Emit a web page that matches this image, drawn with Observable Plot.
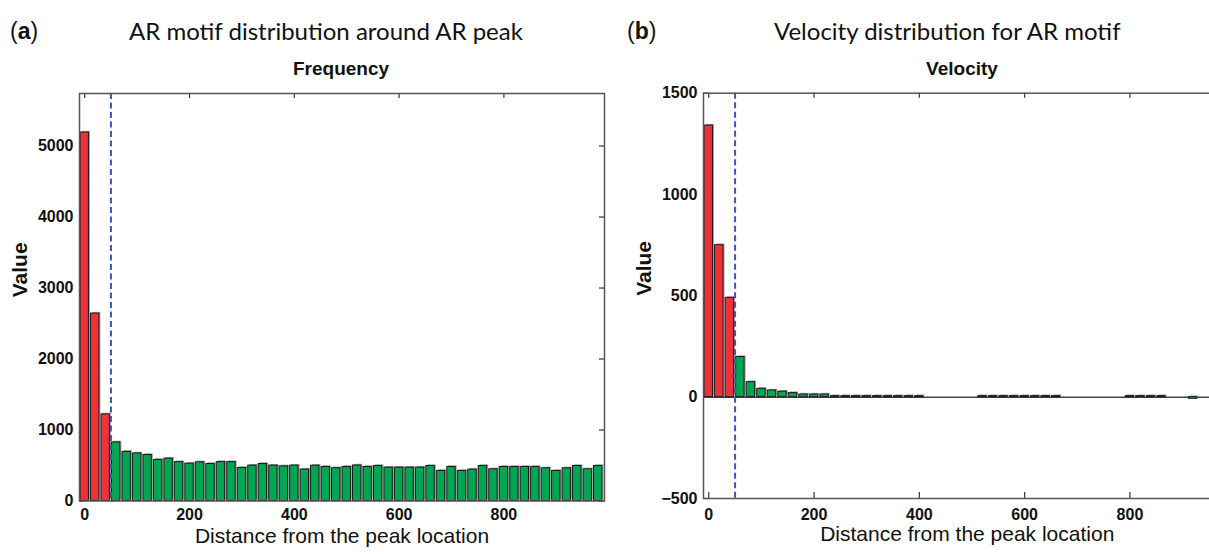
<!DOCTYPE html>
<html><head><meta charset="utf-8">
<script src="https://cdn.jsdelivr.net/npm/d3@7"></script>
<script src="https://cdn.jsdelivr.net/npm/@observablehq/plot@0.6"></script>
<style>
html,body{margin:0;padding:0;background:#fff;overflow:hidden;width:1209px;height:554px;}
#root{position:relative;width:1209px;height:554px;overflow:hidden;}
.panel{position:absolute;top:0;width:620px;height:554px;}
.panel svg{max-width:none !important;}
.head{position:absolute;font-family:Lato,"Open Sans",sans-serif;font-size:24px;color:#111;white-space:nowrap;line-height:1;}
.tag{position:absolute;font-family:"Liberation Sans",Arial,sans-serif;font-size:23px;color:#111;line-height:1;}
.sub{position:absolute;font-family:"Liberation Sans",Arial,sans-serif;font-weight:bold;font-size:19px;color:#111;transform:translateX(-50%);line-height:1;white-space:nowrap;}
</style></head>
<body>
<div id="root">
  <div class="tag" style="left:10px;top:20px">(<b>a</b>)</div>
  <div class="head" style="left:129px;top:19px">AR motif distribution around AR peak</div>
  <div class="sub" style="left:341px;top:59px">Frequency</div>
  <div class="tag" style="left:627px;top:20px">(<b>b</b>)</div>
  <div class="head" style="left:774px;top:19px">Velocity distribution for AR motif</div>
  <div class="sub" style="left:962px;top:59px">Velocity</div>
  <div id="left" class="panel" style="left:0"></div>
  <div id="right" class="panel" style="left:620px"></div>
</div>
<script>
// Bin centers (distance from the peak location)
const distances = [0,20,40,60,80,100,120,140,160,180,200,220,240,260,280,300,320,340,360,380,
  400,420,440,460,480,500,520,540,560,580,600,620,640,660,680,700,720,740,760,780,
  800,820,840,860,880,900,920,940,960,980];
// Panel (a): motif frequency
const frequency = [5190,2640,1220,825,692,670,648,578,596,547,525,545,521,548,548,465,498,521,498,488,
  498,443,497,479,462,479,500,479,493,470,470,470,470,493,423,479,423,441,493,446,
  479,479,479,479,460,423,460,493,446,493];
// Panel (b): velocity
const velocity = [1340,750,490,198,74,41,33,27,20,13,13,13,5,5,5,5,5,5,5,5,
  5,0,0,0,0,0,5,5,5,5,5,5,5,5,0,0,0,0,0,0,
  5,5,5,5,0,0,-8,0,0,0];
const cutoff = 50;               // dashed separation line
const xTicks = [0,200,400,600,800];
const freqTicks = [0,1000,2000,3000,4000,5000];
const velTicks = [-500,0,500,1000,1500];
const xLabel = "Distance from the peak location";
const yLabel = "Value";
const nearColor = "#ee3238";
const farColor = "#00a651";

const freqData = distances.map((d,i)=>({x:d, v:frequency[i]}));
const velData = distances.map((d,i)=>({x:d, v:velocity[i]})).filter(d=>d.v!==0);

function panel({data, yDomain, yTicks, width, marginLeft, marginRight, marginTop, marginBottom, zeroLine, xPad}) {
  const H = 554 - marginTop - marginBottom;
  const W = width - marginLeft - marginRight;
  const fill = d => d.x < cutoff ? nearColor : farColor;
  const bx1 = d => d.x - 8, bx2 = d => d.x + 8;
  return Plot.plot({
    width, height: 554, marginLeft, marginRight, marginTop, marginBottom,
    x: {domain: [-10, 992]},
    y: {domain: yDomain},
    style: {fontFamily: "'Liberation Sans', Arial, sans-serif", fontSize: "16px", background: "transparent", color: "#111", overflow: "visible", maxWidth: "none"},
    marks: [
      // inward ticks on all four sides
      Plot.tickX(xTicks, {x: d=>d, insetBottom: H-5, stroke: "#333", strokeWidth: 1.2}),
      Plot.tickX(xTicks, {x: d=>d, insetTop: H-6, stroke: "#333", strokeWidth: 1.2}),
      Plot.tickY(yTicks, {y: d=>d, insetRight: W-5, stroke: "#333", strokeWidth: 1.2}),
      Plot.tickY(yTicks, {y: d=>d, insetLeft: W-5, stroke: "#333", strokeWidth: 1.2}),
      zeroLine ? Plot.ruleY([0], {stroke: "#444", strokeWidth: 1.5}) : null,
      // bar shadow
      Plot.rectY(data, {x1: bx1, x2: bx2, y1: 0, y2: "v", fill: "#a0a0a0", dx: 1.5, dy: -1.2}),
      Plot.rectY(data, {x1: bx1, x2: bx2, y1: 0, y2: "v", fill, stroke: "#1a1a1a", strokeWidth: 1}),
      Plot.ruleX([cutoff], {stroke: "#3a55c4", strokeWidth: 2, strokeDasharray: "6,3.5"}),
      Plot.frame({stroke: "#555", strokeWidth: 1.5}),
      Plot.axisY({ticks: yTicks, tickSize: 0, tickPadding: 6, tickFormat: d3.format("d"), fontWeight: "bold", fontSize: 16, label: null}),
      Plot.axisX({ticks: xTicks, tickSize: 0, tickPadding: xPad, tickFormat: d3.format("d"), fontWeight: "bold", fontSize: 16, label: null}),
      Plot.text([xLabel], {text: d=>d, frameAnchor: "bottom", dy: 42, fontSize: 21}),
      Plot.text([yLabel], {text: d=>d, frameAnchor: "left", dx: -59, rotate: -90, fontSize: 21, fontWeight: "bold"})
    ]
  });
}

document.getElementById("left").append(panel({
  data: freqData, yDomain: [0, 5740], yTicks: freqTicks, width: 620,
  marginLeft: 79, marginRight: 16, marginTop: 93, marginBottom: 53.5, zeroLine: false, xPad: 8
}));
document.getElementById("right").append(panel({
  data: velData, yDomain: [-500, 1500], yTicks: velTicks, width: 620,
  marginLeft: 83, marginRight: 9.5, marginTop: 92.7, marginBottom: 56, zeroLine: true, xPad: 10
}));
</script>
</body></html>
